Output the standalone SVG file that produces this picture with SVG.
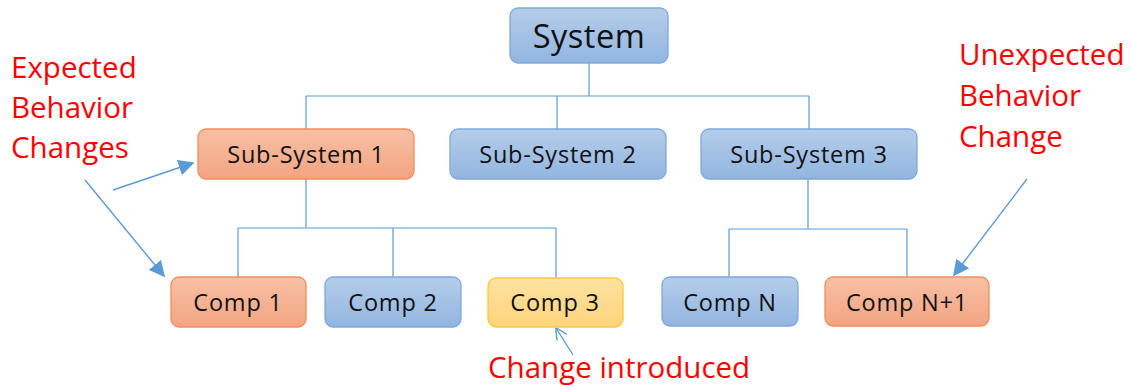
<svg xmlns="http://www.w3.org/2000/svg" width="1131" height="387" viewBox="0 0 1131 387">
  <defs>
    <linearGradient id="gBlue" x1="0" y1="0" x2="0" y2="1">
      <stop offset="0" stop-color="#b5cdea"/>
      <stop offset="1" stop-color="#92b5df"/>
    </linearGradient>
    <linearGradient id="gOrange" x1="0" y1="0" x2="0" y2="1">
      <stop offset="0" stop-color="#f7c0a6"/>
      <stop offset="1" stop-color="#f3a481"/>
    </linearGradient>
    <linearGradient id="gYellow" x1="0" y1="0" x2="0" y2="1">
      <stop offset="0" stop-color="#fee2a0"/>
      <stop offset="1" stop-color="#fdd47a"/>
    </linearGradient>
    <marker id="tri-big" viewBox="0 0 10 10" refX="9" refY="5" markerWidth="16" markerHeight="16" orient="auto" markerUnits="userSpaceOnUse">
      <path d="M0,0 L10,5 L0,10 z" fill="#5b9bd5"/>
    </marker>
    <marker id="vee" viewBox="0 0 10 10" refX="9.5" refY="5" markerWidth="12" markerHeight="12" orient="auto" markerUnits="userSpaceOnUse">
      <path d="M0,0 L10,5 L0,10" fill="none" stroke="#5b9bd5" stroke-width="1.2"/>
    </marker>
  </defs>
  <style>
    .box rect { stroke-width: 1.3; }
    .blue rect { fill: url(#gBlue); stroke: #7ea9dc; }
    .orange rect { fill: url(#gOrange); stroke: #ef8e5e; }
    .yellow rect { fill: url(#gYellow); stroke: #ffc73a; }
    .box text { font-family: "Open Sans", "Noto Sans", sans-serif; font-size: 23.5px; letter-spacing: 0.8px; fill: #111; text-anchor: middle; }
    .tree { fill: none; stroke: #5b9bd5; stroke-width: 1.2; }
    .pointer { fill: none; stroke: #5b9bd5; stroke-width: 1.4; }
    .note { font-family: "Open Sans", "Noto Sans", sans-serif; font-size: 29.5px; fill: #ff0000; }
  </style>

  <!-- tree connectors and annotation pointers -->
  <g id="connectors">
    <path class="tree" d="M589,63 V96 M306,96 H809 M306,96 V129 M557,96 V129 M809,96 V129"/>
    <path class="tree" d="M306,179 V228 M238,228 H556 M238,228 V277 M393,228 V277 M556,228 V278"/>
    <path class="tree" d="M808,179 V229 M729,229 H907 M729,229 V277 M907,229 V277"/>
    <line class="pointer" x1="113" y1="190" x2="193" y2="163" marker-end="url(#tri-big)"/>
    <line class="pointer" x1="85" y1="180" x2="164" y2="276" marker-end="url(#tri-big)"/>
    <line class="pointer" x1="1027" y1="179" x2="954" y2="275" marker-end="url(#tri-big)"/>
    <line class="pointer" x1="573" y1="355" x2="556" y2="328" marker-end="url(#vee)"/>
  </g>

  <g id="system" class="box blue">
    <rect x="510" y="8" width="158" height="55" rx="8"/>
    <text x="589" y="48" style="font-size:32.5px;letter-spacing:0.5px">System</text>
  </g>

  <g id="subsystem-1" class="box orange">
    <rect x="198" y="129" width="216" height="50" rx="8"/>
    <text x="306" y="163">Sub-System 1</text>
  </g>
  <g id="subsystem-2" class="box blue">
    <rect x="450" y="129" width="216" height="50" rx="8"/>
    <text x="558" y="163">Sub-System 2</text>
  </g>
  <g id="subsystem-3" class="box blue">
    <rect x="701" y="129" width="216" height="50" rx="8"/>
    <text x="809" y="163">Sub-System 3</text>
  </g>

  <g id="comp-1" class="box orange">
    <rect x="171" y="277" width="135" height="50" rx="8"/>
    <text x="238" y="311">Comp 1</text>
  </g>
  <g id="comp-2" class="box blue">
    <rect x="325" y="277" width="136" height="50" rx="8"/>
    <text x="393" y="311">Comp 2</text>
  </g>
  <g id="comp-3" class="box yellow">
    <rect x="488" y="278" width="135" height="49" rx="8"/>
    <text x="555" y="311">Comp 3</text>
  </g>
  <g id="comp-n" class="box blue">
    <rect x="662" y="277" width="136" height="49" rx="8"/>
    <text x="730" y="311">Comp N</text>
  </g>
  <g id="comp-n1" class="box orange">
    <rect x="825" y="277" width="164" height="49" rx="8"/>
    <text x="907" y="311">Comp N+1</text>
  </g>

  <g id="note-expected">
    <text class="note" x="11" y="78">Expected</text>
    <text class="note" x="11" y="118">Behavior</text>
    <text class="note" x="11" y="158">Changes</text>
  </g>
  <g id="note-unexpected">
    <text class="note" x="959" y="65">Unexpected</text>
    <text class="note" x="959" y="106">Behavior</text>
    <text class="note" x="959" y="147">Change</text>
  </g>
  <g id="note-change">
    <text class="note" x="488" y="378">Change introduced</text>
  </g>
</svg>
